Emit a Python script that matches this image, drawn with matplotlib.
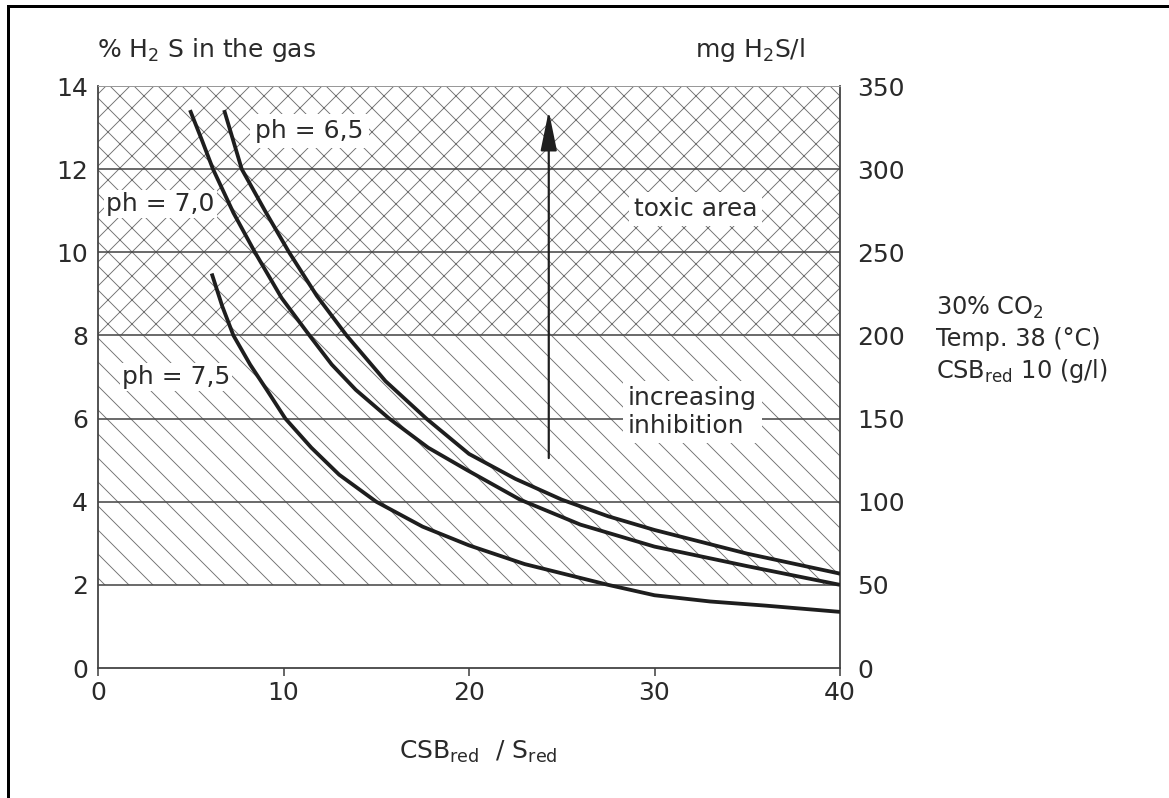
import matplotlib
matplotlib.use("Agg")
import matplotlib.pyplot as plt
from matplotlib.lines import Line2D

plt.rcParams['font.family'] = ['DejaVu Sans']
plt.rcParams['mathtext.fontset'] = 'dejavusans'
plt.rcParams['hatch.linewidth'] = 0.9
plt.rcParams['hatch.color'] = '#707070'

# ---- data ----
x_ph65 = [6.8, 7.75, 9.0, 10.3, 11.8, 13.4, 15.5, 17.7, 20.0, 22.5, 25.0, 27.5, 30.0, 35.0, 40.0]
y_ph65 = [13.42, 12.0, 11.0, 10.0, 8.95, 8.0, 6.9, 6.0, 5.15, 4.55, 4.05, 3.65, 3.32, 2.75, 2.27]

x_ph70 = [4.96, 5.6, 6.2, 7.3, 8.46, 9.9, 11.4, 12.6, 13.9, 15.7, 17.8, 19.9, 22.75, 26.0, 30.0, 35.0, 40.0]
y_ph70 = [13.42, 12.7, 12.0, 10.95, 10.0, 8.9, 8.0, 7.3, 6.69, 6.0, 5.3, 4.76, 4.05, 3.45, 2.92, 2.45, 2.0]

x_ph75 = [6.13, 6.7, 7.3, 8.2, 9.1, 10.1, 11.5, 13.0, 15.0, 17.5, 20.0, 23.0, 27.5, 30.0, 33.0, 36.0, 40.0]
y_ph75 = [9.49, 8.7, 8.0, 7.3, 6.69, 6.0, 5.3, 4.65, 4.0, 3.4, 2.95, 2.5, 2.0, 1.75, 1.6, 1.5, 1.35]

xticks = [0, 10, 20, 30, 40]
yticks_left = [0, 2, 4, 6, 8, 10, 12, 14]
yticks_right = [0, 50, 100, 150, 200, 250, 300, 350]
toxic_band = (8, 14)
inhibition_band = (2, 8)

W, H, DPI = 1169, 798, 72
FS = 25
fig = plt.figure(figsize=(W / DPI, H / DPI), dpi=DPI)
ax = fig.add_axes([98 / W, 1 - 668 / H, (840 - 98) / W, (668 - 86) / H])

ax.set_xlim(0, 40)
ax.set_ylim(0, 14)

# hatched zones
ax.axhspan(*toxic_band, facecolor='white', edgecolor='#707070', linewidth=0, hatch='x', zorder=0)
ax.axhspan(*inhibition_band, facecolor='white', edgecolor='#707070', linewidth=0, hatch='\\', zorder=0)

# horizontal lines
for yv in yticks_left[1:-1]:
    ax.axhline(yv, color='#4a4a4a', lw=1.6, zorder=1)

# curves
for xs, ys in [(x_ph65, y_ph65), (x_ph70, y_ph70), (x_ph75, y_ph75)]:
    ax.plot(xs, ys, color='#1e1e1e', lw=3.8, solid_capstyle='butt', solid_joinstyle='round', zorder=3)

# arrow
ax.annotate('', xy=(24.3, 13.4), xytext=(24.3, 5.05),
            arrowprops=dict(arrowstyle='-|>,head_length=3.4,head_width=0.7', color='#1e1e1e', lw=2.2,
                            shrinkA=0, shrinkB=0),
            zorder=4)

tc = '#2a2a2a'
ax.text(11.4, 12.92, 'ph = 6,5', fontsize=FS, color=tc, ha='center', va='center',
        bbox=dict(facecolor='white', edgecolor='none', pad=5), zorder=2)
ax.text(0.45, 11.15, 'ph = 7,0', fontsize=FS, color=tc, ha='left', va='center',
        bbox=dict(facecolor='white', edgecolor='none', pad=2), zorder=2)
ax.text(1.3, 7.0, 'ph = 7,5', fontsize=FS, color=tc, ha='left', va='center',
        bbox=dict(facecolor='white', edgecolor='none', pad=2), zorder=2)
ax.text(32.2, 11.05, 'toxic area', fontsize=FS, color=tc, ha='center', va='center',
        bbox=dict(facecolor='white', edgecolor='none', pad=5), zorder=2)
ax.text(28.55, 6.16, 'increasing\ninhibition', fontsize=FS, color=tc, ha='left', va='center',
        linespacing=1.25, bbox=dict(facecolor='white', edgecolor='none', pad=5), zorder=2)

# axes styling
for side in ['left', 'bottom', 'right']:
    ax.spines[side].set_color('#444444')
    ax.spines[side].set_linewidth(1.8)
ax.spines['top'].set_color('#999999')
ax.spines['top'].set_linewidth(1.0)

ax.set_xticks(xticks)
ax.set_yticks(yticks_left)
ax.tick_params(axis='x', direction='out', length=8, width=1.6, color='#444444',
               labelsize=FS, labelcolor=tc, pad=5)
ax.tick_params(axis='y', length=0, labelsize=FS, labelcolor=tc, pad=10)

ax2 = ax.twinx()
ax2.set_ylim(0, 350)
ax2.set_yticks(yticks_right)
ax2.tick_params(axis='y', length=0, labelsize=FS, labelcolor=tc, pad=17)
for s in ax2.spines.values():
    s.set_visible(False)

# axis titles
fig.text(97 / W, 1 - 50 / H, r'% H$_2$ S in the gas', fontsize=FS, color=tc, ha='left', va='center')
fig.text(695 / W, 1 - 50 / H, r'mg H$_2$S/l', fontsize=FS, color=tc, ha='left', va='center')
fig.text(478 / W, 1 - 752 / H, r'CSB$_{\mathrm{red}}$  / S$_{\mathrm{red}}$', fontsize=FS, color=tc,
         ha='center', va='center')
fig.text(936 / W, 1 - 340 / H, '30% CO$_2$\nTemp. 38 (°C)\nCSB$_{\\mathrm{red}}$ 10 (g/l)', fontsize=FS - 1,
         color=tc, ha='left', va='center', linespacing=1.3)

# figure frame (left and top)
fig.add_artist(Line2D([8 / W, 8 / W], [0, 1 - 6 / H], transform=fig.transFigure, color='black', lw=3))
fig.add_artist(Line2D([8 / W, 1], [1 - 6 / H, 1 - 6 / H], transform=fig.transFigure, color='black', lw=3))

fig.savefig('out.png', dpi=DPI, facecolor='white')
